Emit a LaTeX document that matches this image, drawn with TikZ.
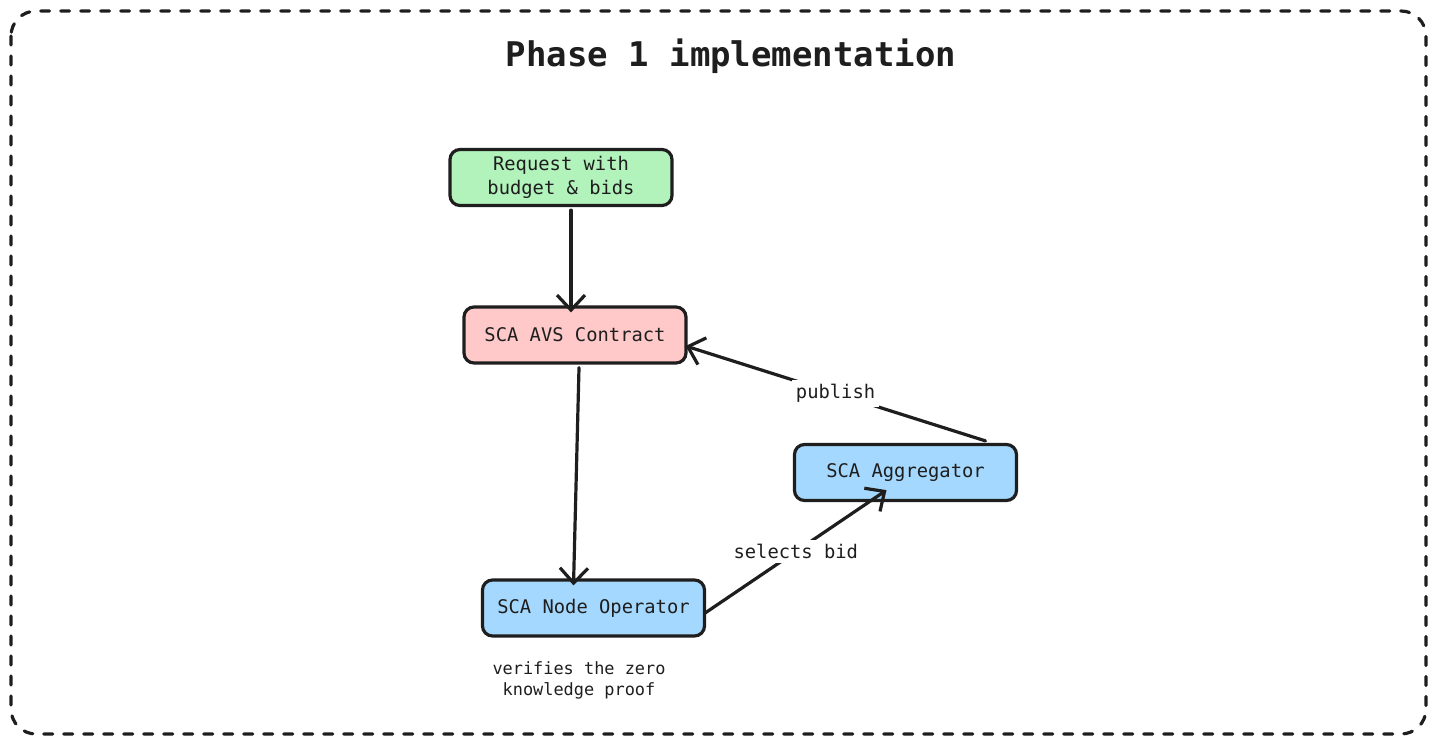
\documentclass[tikz,border=0pt]{standalone}
\usepackage{fontspec}
\setmonofont{DejaVu Sans Mono}
\usetikzlibrary{arrows.meta}

\definecolor{ink}{HTML}{1E1E1E}
\definecolor{reqgreen}{HTML}{B2F2BB}
\definecolor{avsred}{HTML}{FFC9C9}
\definecolor{scablue}{HTML}{A5D8FF}

\begin{document}
\begin{tikzpicture}[x=1pt,y=-1pt,>={Straight Barb[length=15pt,width=28pt,line width=3.2pt]},
    box/.style={draw=ink,line width=3.2pt,rounded corners=10pt,minimum width=222pt,minimum height=56pt,
        inner sep=0pt,align=center,font=\fontsize{18.8}{24}\selectfont\ttfamily,text=ink},
    flow/.style={->,draw=ink,line width=3.2pt,line cap=round},
    lbl/.style={fill=white,inner sep=4pt,font=\fontsize{18.8}{24}\selectfont\ttfamily,text=ink}]
            \useasboundingbox (0,0) rectangle (1437,744);
            \draw[ink,line width=3.2pt,line cap=round,dash pattern=on 9pt off 11pt,rounded corners=25pt]
                (11,11) rectangle (1426,734);
            \node[font=\fontsize{34}{40}\selectfont\ttfamily\bfseries,text=ink] (title) at (731,56) {Phase 1 implementation};

            \node[box,fill=reqgreen] (req) at (561,177.5) {Request with\\budget \& bids};
            \node[box,fill=avsred] (avs) at (575,335) {SCA AVS Contract};
            \node[box,fill=scablue] (agg) at (905.5,472.5) {SCA Aggregator};
            \node[box,fill=scablue] (nop) at (593.5,608) {SCA Node Operator};
            \node[align=center,text=ink,font=\fontsize{16.9}{21}\selectfont\ttfamily] (zkp) at (579,680)
                {verifies the zero\\knowledge proof};

            % request -> contract
            \draw[flow] ([xshift=10pt,yshift=-3pt]req.south) -- ([xshift=-4pt,yshift=-7pt]avs.north);
            % contract -> operator
            \draw[flow] ([xshift=4pt,yshift=-3pt]avs.south) -- ([xshift=-20pt,yshift=-7pt]nop.north);
            % aggregator -> contract
            \draw[flow] ([xshift=80pt,yshift=2pt]agg.north) -- ([xshift=-2pt,yshift=-11pt]avs.east)
                node[lbl,pos=0.5] (pub) {publish};
            % operator -> aggregator
            \draw[flow] ([xshift=-1pt,yshift=-5pt]nop.east) -- ([xshift=-19pt,yshift=12pt]agg.south)
                node[lbl,pos=0.5] (sel) {selects bid};
        \end{tikzpicture}
\end{document}
